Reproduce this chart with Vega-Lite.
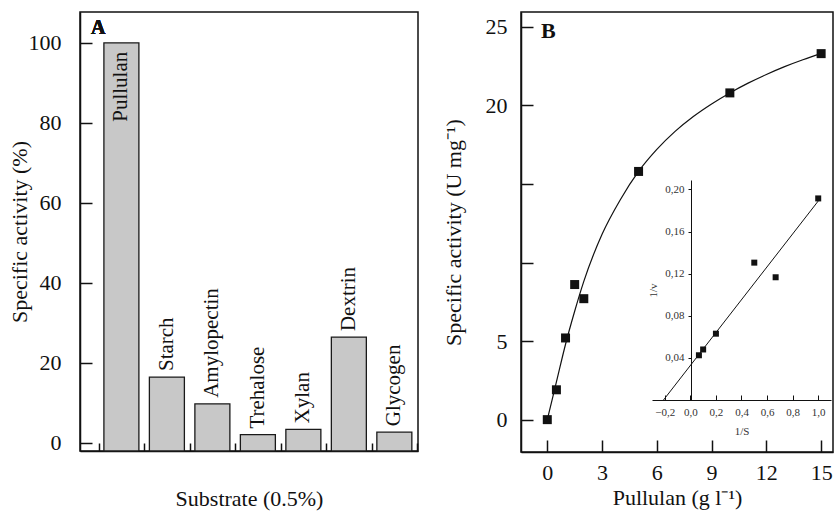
{
  "$schema": "https://vega.github.io/schema/vega-lite/v6.json",
  "background": "white",
  "padding": {"left": 7, "top": 11, "right": 0, "bottom": 0},
  "spacing": 22,
  "config": {
    "font": "Liberation Serif",
    "view": {"stroke": "#111", "strokeWidth": 1.5},
    "scale": {"nice": false, "zero": false},
    "axis": {
      "domainColor": "#111", "domainWidth": 1.5, "tickColor": "#111", "tickWidth": 1.5,
      "labelColor": "#111", "titleColor": "#111", "labelFont": "Liberation Serif", "titleFont": "Liberation Serif",
      "labelFontSize": 22, "titleFontSize": 22, "titleFontWeight": "normal", "grid": false
    }
  },
  "datasets": {
    "substrates": [
      {"substrate": "Pullulan", "order": 1, "activity": 100},
      {"substrate": "Starch", "order": 2, "activity": 16.4},
      {"substrate": "Amylopectin", "order": 3, "activity": 9.7},
      {"substrate": "Trehalose", "order": 4, "activity": 2.0},
      {"substrate": "Xylan", "order": 5, "activity": 3.3},
      {"substrate": "Dextrin", "order": 6, "activity": 26.4},
      {"substrate": "Glycogen", "order": 7, "activity": 2.6}
    ],
    "measured": [
      {"pullulan": 0, "activity": 0},
      {"pullulan": 0.5, "activity": 1.9},
      {"pullulan": 1, "activity": 5.2},
      {"pullulan": 1.5, "activity": 8.6},
      {"pullulan": 2, "activity": 7.7},
      {"pullulan": 5, "activity": 15.8},
      {"pullulan": 10, "activity": 20.8},
      {"pullulan": 15, "activity": 23.3}
    ],
    "fit": [
      {"pullulan": 0, "activity": 0},
      {"pullulan": 0.5, "activity": 2.4},
      {"pullulan": 1, "activity": 4.8},
      {"pullulan": 1.5, "activity": 6.9},
      {"pullulan": 2, "activity": 8.8},
      {"pullulan": 3, "activity": 11.8},
      {"pullulan": 4, "activity": 14.0},
      {"pullulan": 5, "activity": 15.8},
      {"pullulan": 6, "activity": 17.2},
      {"pullulan": 7, "activity": 18.35},
      {"pullulan": 8, "activity": 19.3},
      {"pullulan": 9, "activity": 20.1},
      {"pullulan": 10, "activity": 20.8},
      {"pullulan": 11, "activity": 21.42},
      {"pullulan": 12, "activity": 21.97},
      {"pullulan": 13, "activity": 22.47},
      {"pullulan": 14, "activity": 22.91},
      {"pullulan": 15, "activity": 23.3}
    ],
    "lb": [
      {"invS": 0.067, "invV": 0.0425},
      {"invS": 0.1, "invV": 0.048},
      {"invS": 0.2, "invV": 0.063},
      {"invS": 0.5, "invV": 0.1305},
      {"invS": 0.667, "invV": 0.1166},
      {"invS": 1.0, "invV": 0.1915}
    ],
    "lbfit": [
      {"invS": -0.21, "invV": 0},
      {"invS": 1.0, "invV": 0.189}
    ]
  },
  "hconcat": [
    {
      "width": 338,
      "height": 439,
      "data": {"name": "substrates"},
      "layer": [
        {
          "mark": {"type": "bar", "size": 35, "fill": "#c8c8c8", "stroke": "#1a1a1a", "strokeWidth": 1.3},
          "encoding": {
            "x": {"field": "order", "type": "quantitative", "scale": {"domain": [0.09, 7.52], "nice": false, "zero": false, "padding": 0},
              "axis": {"values": [0.5, 1.5, 2.5, 3.5, 4.5, 5.5, 6.5, 7.5], "labels": false, "tickSize": -8,
                "title": "Substrate (0.5%)", "titlePadding": 37}},
            "y": {"field": "activity", "type": "quantitative", "scale": {"domain": [-2.1, 107.7], "nice": false, "zero": false},
              "axis": {"values": [0, 20, 40, 60, 80, 100], "tickSize": -12, "labelPadding": 31,
                "title": "Specific activity (%)", "titlePadding": -3}},
            "y2": {"datum": -2.1}
          }
        },
        {
          "transform": [{"filter": "datum.substrate !== 'Pullulan'"}],
          "mark": {"type": "text", "angle": 270, "align": "left", "baseline": "middle", "dx": 6, "fontSize": 21, "color": "#111"},
          "encoding": {
            "x": {"field": "order", "type": "quantitative"},
            "y": {"field": "activity", "type": "quantitative"},
            "text": {"field": "substrate"}
          }
        },
        {
          "transform": [{"filter": "datum.substrate === 'Pullulan'"}],
          "mark": {"type": "text", "angle": 270, "align": "right", "baseline": "middle", "dx": -9, "fontSize": 21, "color": "#111"},
          "encoding": {
            "x": {"field": "order", "type": "quantitative"},
            "y": {"field": "activity", "type": "quantitative"},
            "text": {"field": "substrate"}
          }
        },
        {
          "mark": {"type": "text", "text": "A", "fontWeight": "bold", "fontSize": 20, "align": "left", "baseline": "alphabetic", "color": "#111"},
          "encoding": {"x": {"datum": 0.33}, "y": {"datum": 102.3}}
        }
      ]
    },
    {
      "width": 312,
      "height": 440,
      "layer": [
        {
          "layer": [
            {
              "data": {"name": "fit"},
              "mark": {"type": "line", "interpolate": "monotone", "color": "#111", "strokeWidth": 1.2},
              "encoding": {
                "x": {"field": "pullulan", "type": "quantitative", "scale": {"domain": [-1.44, 15.65], "nice": false, "zero": false},
                  "axis": {"values": [0, 3, 6, 9, 12, 15], "tickSize": -12, "labelPadding": 22,
                    "title": "Pullulan (g l⁻¹)", "titlePadding": 4}},
                "y": {"field": "activity", "type": "quantitative", "scale": {"domain": [-2.06, 25.95], "nice": false, "zero": false},
                  "axis": {"values": [0, 5, 10, 15, 20, 25], "tickSize": -12, "labelPadding": 26,
                    "labelExpr": "datum.value == 10 || datum.value == 15 ? '' : datum.label",
                    "title": "Specific activity (U mg⁻¹)", "titlePadding": 20}}
              }
            },
            {
              "data": {"name": "measured"},
              "mark": {"type": "point", "shape": "square", "filled": true, "size": 81, "color": "#111", "opacity": 1},
              "encoding": {
                "x": {"field": "pullulan", "type": "quantitative"},
                "y": {"field": "activity", "type": "quantitative"}
              }
            },
            {
              "data": {"values": [{}]},
              "mark": {"type": "text", "text": "B", "fontWeight": "bold", "fontSize": 22, "align": "left", "baseline": "alphabetic", "color": "#111"},
              "encoding": {"x": {"datum": -0.35}, "y": {"datum": 24.3}}
            }
          ]
        },
        {
          "layer": [
            {
              "data": {"name": "lbfit"},
              "mark": {"type": "line", "color": "#111", "strokeWidth": 1},
              "encoding": {
                "x": {"field": "invS", "type": "quantitative", "scale": {"domain": [-0.3, 1.1], "range": [131, 310], "nice": false, "zero": false},
                  "axis": {"orient": "bottom", "offset": -52, "values": [-0.2, 0, 0.2, 0.4, 0.6, 0.8, 1.0],
                    "labelExpr": "replace(format(datum.value, '.1f'), '.', ',')",
                    "tickSize": -5, "tickWidth": 1, "domainWidth": 1, "labelPadding": 11, "labelFontSize": 11, "labelColor": "#333",
                    "title": "1/S", "titleFontSize": 11, "titleColor": "#333", "titlePadding": 8}},
                "y": {"field": "invV", "type": "quantitative", "scale": {"domain": [0, 0.209], "range": [388, 168], "nice": false, "zero": false},
                  "axis": {"orient": "left", "offset": -170, "values": [0.04, 0.08, 0.12, 0.16, 0.2],
                    "labelExpr": "replace(format(datum.value, '.2f'), '.', ',')",
                    "tickSize": 3, "tickWidth": 1, "domainWidth": 1, "labelPadding": 4, "labelFontSize": 11, "labelColor": "#333",
                    "title": "1/v", "titleFontSize": 11, "titleColor": "#333", "titlePadding": 6}}
              }
            },
            {
              "data": {"name": "lb"},
              "mark": {"type": "point", "shape": "square", "filled": true, "size": 36, "color": "#111", "opacity": 1},
              "encoding": {
                "x": {"field": "invS", "type": "quantitative"},
                "y": {"field": "invV", "type": "quantitative"}
              }
            }
          ]
        }
      ],
      "resolve": {"scale": {"x": "independent", "y": "independent"}, "axis": {"x": "independent", "y": "independent"}}
    }
  ]
}
